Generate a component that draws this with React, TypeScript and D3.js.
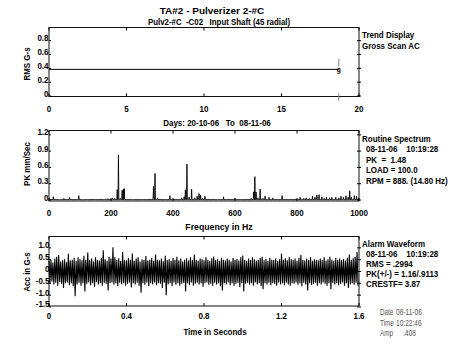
import React from 'react';
import * as d3 from 'd3';

// ---------- DATA ----------
const titleLines = ['TA#2 - Pulverizer 2-#C', 'Pulv2-#C  -C02   Input Shaft (45 radial)'];

const trendXTicks = [0, 5, 10, 15, 20];
const trendYTicks = [0, 0.2, 0.4, 0.6, 0.8];
const trendYLabels = ['0', '0.2', '0.4', '0.6', '0.8'];
const trendDays = [0, 18.7];
const trendValues = [0.385, 0.385];
const trendAlarm = [0.43, 0.54];
const trendInfo = ['Trend Display', 'Gross Scan AC'];
const trendXTitle = 'Days: 20-10-06   To  08-11-06';

const specXTicks = [0, 200, 400, 600, 800, 1000];
const specYTicks = [0, 0.3, 0.6, 0.9, 1.2];
const specYLabels = ['0', '0.3', '0.6', '0.9', '1.2'];
const specFreq = [8, 14, 20, 35, 48, 55, 66, 72, 96, 110, 125, 140, 150, 165, 178, 190, 198, 205, 212, 220, 224, 230, 236, 240, 243, 250, 270, 300, 325, 337, 342, 350, 358, 375, 390, 410, 428, 436, 440, 445, 452, 460, 470, 478, 484, 489, 496, 503, 515, 530, 545, 563, 580, 600, 620, 640, 652, 660, 664, 668, 674, 681, 690, 697, 710, 722, 735, 752, 765, 780, 795, 810, 822, 830, 840, 850, 858, 864, 871, 880, 888, 895, 905, 912, 925, 935, 942, 950, 958, 965, 970, 975, 985, 992, 998];
const specAmp = [0.02, 0.06, 0.02, 0.01, 0.03, 0.02, 0.05, 0.02, 0.08, 0.01, 0.015, 0.02, 0.015, 0.02, 0.015, 0.025, 0.02, 0.04, 0.03, 0.19, 0.83, 0.03, 0.18, 0.2, 0.21, 0.02, 0.01, 0.015, 0.02, 0.25, 0.49, 0.04, 0.02, 0.015, 0.08, 0.02, 0.04, 0.06, 0.19, 0.66, 0.05, 0.2, 0.04, 0.07, 0.12, 0.09, 0.03, 0.07, 0.02, 0.02, 0.015, 0.06, 0.02, 0.03, 0.015, 0.02, 0.03, 0.15, 0.43, 0.15, 0.04, 0.2, 0.03, 0.07, 0.05, 0.04, 0.02, 0.08, 0.02, 0.02, 0.02, 0.05, 0.03, 0.04, 0.03, 0.07, 0.05, 0.09, 0.1, 0.06, 0.03, 0.05, 0.04, 0.05, 0.05, 0.04, 0.07, 0.05, 0.08, 0.05, 0.17, 0.05, 0.08, 0.07, 0.03];
const specBase = 0.006;
const specInfo = ['Routine Spectrum', '08-11-06    10:19:28', 'PK  =  1.48', 'LOAD = 100.0', 'RPM = 888. (14.80 Hz)'];
const specXTitle = 'Frequency in Hz';

const waveXTicks = [0, 0.4, 0.8, 1.2, 1.6];
const waveXLabels = ['0', '0.4', '0.8', '1.2', '1.6'];
const waveYTicks = [1.0, 0.5, 0, -0.5, -1.0, -1.5];
const waveYLabels = ['1.0', '0.5', '0', '-0.5', '-1.0', '-1.5'];
const waveHi = [
  0.45, 0.5, 0.38, 0.55, 0.62, 0.7, 0.42, 0.48, 0.52, 0.4, 0.75, 0.46, 0.5, 0.58, 0.44, 0.6, 0.52, 0.47, 0.66, 0.5,
  0.8, 0.48, 0.55, 0.42, 0.6, 0.5, 0.46, 0.57, 0.9, 0.52, 0.45, 0.62, 0.55, 1.02, 0.6, 0.48, 0.56, 0.44, 0.82, 0.5,
  0.47, 0.58, 0.5, 0.76, 0.45, 0.55, 0.6, 0.42, 0.52, 0.48, 0.65, 0.46, 0.5, 0.58, 0.44, 0.72, 0.5, 0.47, 0.55, 0.43,
  0.66, 0.48, 0.52, 0.45, 0.58, 0.5, 0.62, 0.47, 0.55, 0.42, 0.5, 0.56, 0.46, 0.6, 0.48, 0.72, 0.5, 0.45, 0.55, 0.52,
  0.47, 0.6, 0.5, 0.44, 0.56, 0.63, 0.48, 0.52, 0.45, 0.58, 0.5, 0.46, 0.55, 0.5, 0.42, 0.57, 0.48, 0.53, 0.46, 0.6,
  0.68, 0.5, 0.45, 0.55, 0.48, 0.6, 0.52, 0.46, 0.5, 0.57, 0.62, 0.47, 0.53, 0.45, 0.58, 0.5, 0.48, 0.55, 0.44, 0.52,
  0.75, 0.5, 0.56, 0.47, 0.6, 0.52, 0.48, 0.55, 0.45, 0.58, 0.7, 0.5, 0.46, 0.54, 0.48, 0.6, 0.45, 0.52, 0.5, 0.47,
  0.55, 0.48, 0.6, 0.46, 0.52, 0.62, 0.5, 0.45, 0.57, 0.5, 0.55, 0.48, 0.53, 0.46, 0.58, 0.72, 0.5, 0.56, 0.62, 0.82,
];
const waveLo = [
  -0.5, -0.42, -0.55, -0.48, -0.6, -0.45, -0.52, -0.7, -0.5, -0.46, -0.58, -0.5, -0.62, -1.05, -0.55, -0.48, -0.6, -0.5, -0.85, -0.52,
  -0.47, -0.58, -0.5, -0.65, -0.45, -0.55, -0.5, -0.6, -0.48, -0.52, -0.8, -0.5, -0.46, -0.56, -0.5, -0.62, -0.48, -0.55, -0.5, -0.6,
  -0.52, -0.47, -0.68, -0.5, -0.55, -0.48, -0.6, -0.9, -0.5, -0.56, -0.47, -0.62, -0.5, -0.55, -0.46, -0.58, -0.5, -0.52, -0.7, -0.48,
  -1.0, -0.55, -0.5, -0.62, -0.47, -0.56, -0.5, -0.6, -0.52, -0.48, -0.85, -0.5, -0.57, -0.46, -0.6, -0.52, -0.48, -0.55, -0.5, -0.65,
  -0.5, -0.47, -0.56, -0.52, -0.6, -0.48, -0.55, -0.5, -0.62, -0.8, -0.5, -0.55, -0.47, -0.58, -0.5, -0.6, -0.52, -0.48, -0.66, -0.5,
  -0.85, -0.52, -0.48, -0.56, -0.5, -0.6, -0.47, -0.55, -0.5, -0.62, -0.75, -0.5, -0.55, -0.48, -0.58, -0.5, -0.52, -0.6, -0.47, -0.55,
  -0.5, -0.58, -0.48, -0.55, -0.6, -0.5, -0.52, -0.47, -0.56, -0.5, -0.62, -0.48, -0.55, -0.8, -0.5, -0.57, -0.52, -0.48, -0.6, -0.5,
  -0.55, -0.47, -0.52, -0.6, -0.5, -0.75, -0.48, -0.55, -0.5, -0.58, -0.52, -0.47, -0.6, -0.5, -0.7, -0.55, -0.5, -0.56, -0.48, -0.6,
];
const waveDuration = 1.6;
const waveInfo = ['Alarm Waveform', '08-11-06    10:19:28', 'RMS = .2994', 'PK(+/-) = 1.16/.9113', 'CRESTF= 3.87'];
const waveXTitle = 'Time in Seconds';
const stampLabels = ['Date', 'Time', 'Amp'];
const stampValues = ['08-11-06', '10:22:46', '.408'];

const yTitles = ['RMS G-s', 'PK mm/Sec', 'Acc in G-s'];

// ---------- LAYOUT ----------
const FONT = "'Liberation Sans', Arial, sans-serif";
const L = 49;
const R = 359;
const NARROW = 0.84;

type TP = {
  x: number; y: number; children: React.ReactNode; anchor?: 'start' | 'middle' | 'end';
  sx?: number; size?: number; weight?: number; fill?: string; rot?: number;
};
const T = ({ x, y, children, anchor = 'start', sx = NARROW, size = 9.5, weight = 700, fill = '#000', rot = 0 }: TP) => (
  <text
    transform={`translate(${x},${y}) rotate(${rot}) scale(${sx},1)`}
    textAnchor={anchor}
    fontFamily={FONT}
    fontWeight={weight}
    fontSize={size}
    fill={fill}
    xmlSpace="preserve"
    style={{ whiteSpace: 'pre' }}
  >
    {children}
  </text>
);

const Frame = ({ top, bottom }: { top: number; bottom: number }) => (
  <rect x={L} y={top} width={R - L} height={bottom - top} fill="none" stroke="#111" strokeWidth={1} />
);

export default function App() {
  // Trend panel
  const tTop = 27.5, tBot = 96.5;
  const tx = d3.scaleLinear().domain([0, 20]).range([L, R]);
  const ty = d3.scaleLinear().domain([-0.007, 0.99]).range([tBot, tTop]);
  const trendLine = d3.line<number>().x((_, i) => tx(trendDays[i])).y((d) => ty(d))(trendValues) || '';

  // Spectrum panel
  const sTop = 130.5, sBot = 201;
  const sx = d3.scaleLinear().domain([0, 1000]).range([L, R]);
  const sy = d3.scaleLinear().domain([-0.018, 1.28]).range([sBot, sTop]);
  const specPts: [number, number][] = [[0, specBase]];
  specFreq.forEach((f, i) => {
    specPts.push([f - 1.3, specBase]);
    specPts.push([f, specAmp[i]]);
    specPts.push([f + 1.3, specBase]);
  });
  specPts.push([1000, specBase]);
  const specPath = d3.line<[number, number]>().x((d) => sx(d[0])).y((d) => sy(d[1]))(specPts) || '';

  // Waveform panel
  const wTop = 236.5, wBot = 306;
  const wx = d3.scaleLinear().domain([0, waveDuration]).range([L, R]);
  const wy = d3.scaleLinear().domain([-1.46, 1.48]).range([wBot, wTop]);
  const n = waveHi.length;
  const dt = waveDuration / n;
  const wavePts: [number, number][] = [];
  for (let i = 0; i < n; i++) {
    wavePts.push([i * dt, waveHi[i]]);
    wavePts.push([i * dt + dt / 2, waveLo[i]]);
  }
  const wavePath = d3.line<[number, number]>().x((d) => wx(d[0])).y((d) => wy(d[1]))(wavePts) || '';

  const yAxis = (ticks: number[], labels: string[], y: d3.ScaleLinear<number, number>, lx: number) => (
    <g>
      {ticks.map((t, i) => (
        <g key={i}>
          <line x1={L} x2={L + 2} y1={y(t)} y2={y(t)} stroke="#000" />
          <line x1={R - 2} x2={R + 2} y1={y(t)} y2={y(t)} stroke="#000" />
          <T x={lx} y={y(t) + 0.5} anchor="end">{labels[i]}</T>
        </g>
      ))}
    </g>
  );
  const xAxis = (ticks: number[], labels: string[], x: d3.ScaleLinear<number, number>, top: number, bot: number, ly: number) => (
    <g>
      {ticks.map((t, i) => (
        <g key={i}>
          <line x1={x(t)} x2={x(t)} y1={top} y2={top + 3} stroke="#000" />
          <line x1={x(t)} x2={x(t)} y1={bot} y2={bot - 3} stroke="#000" />
          <T x={x(t)} y={ly} anchor="middle">{labels[i]}</T>
        </g>
      ))}
    </g>
  );

  return (
    <svg width={450} height={352} style={{ position: 'absolute', left: 0, top: 0, background: '#fff' }}>
      <rect width={450} height={352} fill="#fff" />
      {/* titles */}
      <T x={212} y={13.5} anchor="middle" sx={1.05}>{titleLines[0]}</T>
      <T x={219} y={24.5} anchor="middle" sx={0.83}>{titleLines[1]}</T>

      {/* ---- Trend ---- */}
      <Frame top={tTop} bottom={tBot} />
      {yAxis(trendYTicks, trendYLabels, ty, 48.5)}
      {xAxis(trendXTicks, trendXTicks.map(String), tx, tTop, tBot, 111.5)}
      <path d={trendLine} fill="none" stroke="#000" strokeWidth={1} />
      <line x1={tx(trendDays[1])} x2={tx(trendDays[1])} y1={ty(trendAlarm[0])} y2={ty(trendAlarm[1])} stroke="#777" />
      <line x1={tx(trendDays[1])} x2={tx(trendDays[1])} y1={tBot - 3} y2={tBot + 4} stroke="#777" />
      <T x={tx(trendDays[1])} y={ty(trendValues[1]) + 2.5} anchor="middle" size={8}>g</T>
      <T x={30} y={64} rot={-90} anchor="middle">{yTitles[0]}</T>
      {trendInfo.map((s, i) => (
        <T key={i} x={362} y={37.5 + i * 11}>{s}</T>
      ))}
      <T x={217} y={125.5} anchor="middle">{trendXTitle}</T>

      {/* ---- Spectrum ---- */}
      <Frame top={sTop} bottom={sBot} />
      <path d={specPath} fill="none" stroke="#000" strokeWidth={0.9} />
      {yAxis(specYTicks, specYLabels, sy, 48.5)}
      {xAxis(specXTicks, specXTicks.map(String), sx, sTop, sBot, 215.5)}
      <T x={30} y={164} rot={-90} anchor="middle">{yTitles[1]}</T>
      {specInfo.map((s, i) => (
        <T key={i} x={i === 0 ? 362 : 366} y={141.5 + i * 10.6}>{s}</T>
      ))}
      <T x={219} y={229.5} anchor="middle" sx={0.92}>{specXTitle}</T>

      {/* ---- Waveform ---- */}
      <Frame top={wTop} bottom={wBot} />
      <path d={wavePath} fill="none" stroke="#000" strokeWidth={1.1} />
      {yAxis(waveYTicks, waveYLabels, wy, 49.5)}
      {xAxis(waveXTicks, waveXLabels, wx, wTop, wBot, 318.5)}
      <T x={30} y={272} rot={-90} anchor="middle">{yTitles[2]}</T>
      {waveInfo.map((s, i) => (
        <T key={i} x={i === 0 ? 362 : 366} y={246.5 + i * 10}>{s}</T>
      ))}
      <T x={215} y={335} anchor="middle">{waveXTitle}</T>
      {stampLabels.map((s, i) => (
        <g key={i}>
          <T x={380} y={315 + i * 10.5} weight={400} size={8.8} sx={0.72} fill="#555">{s}</T>
          <T x={i === 2 ? 403 : 396} y={315 + i * 10.5} weight={400} size={8.8} sx={0.75} fill="#555">{stampValues[i]}</T>
        </g>
      ))}
    </svg>
  );
}
